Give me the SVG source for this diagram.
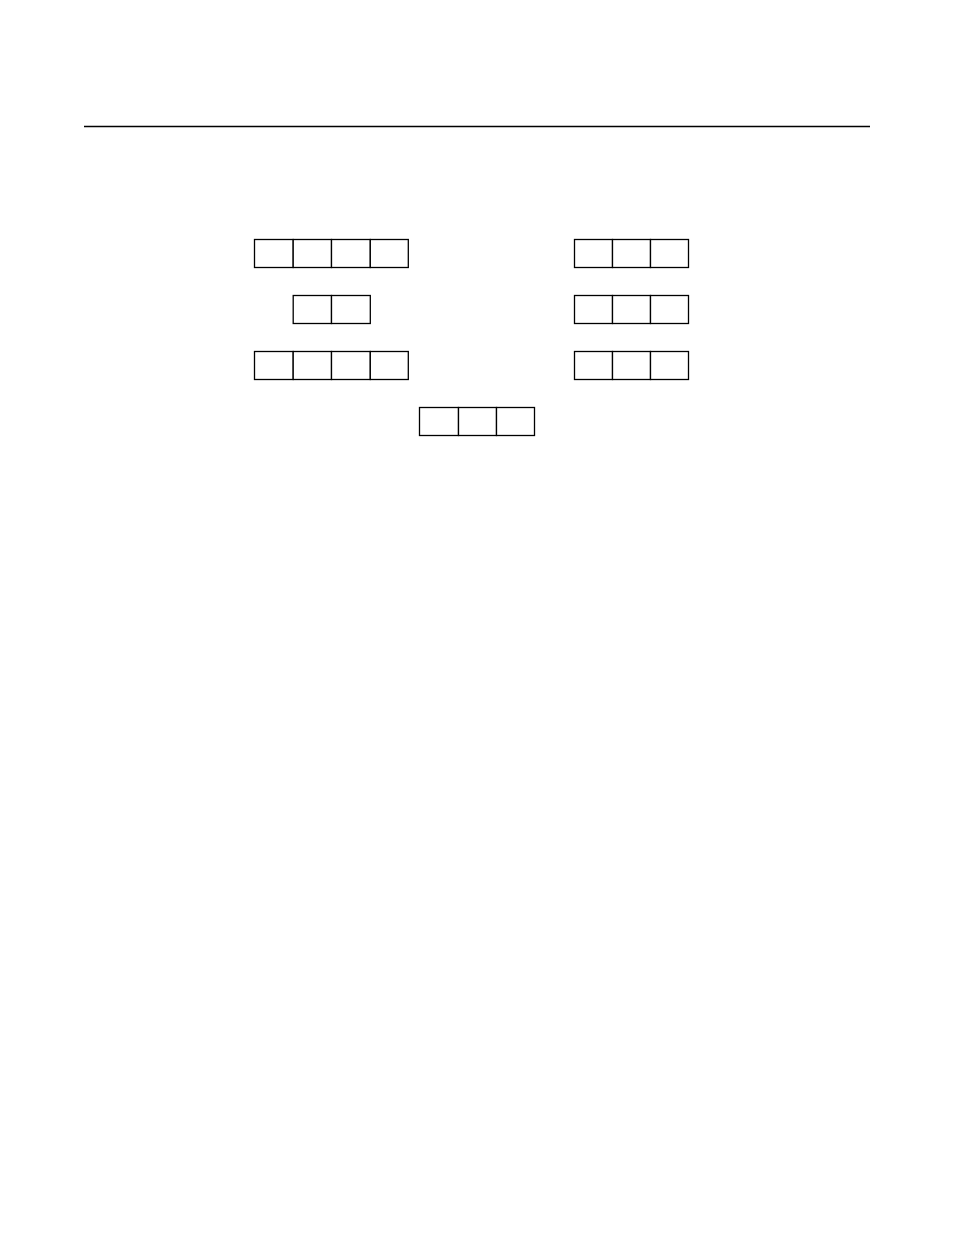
<svg xmlns="http://www.w3.org/2000/svg" width="954" height="1235" viewBox="0 0 954 1235">
<style>
.c{fill:#fff;stroke:#000;stroke-width:1.3}
.r{stroke:#000;stroke-width:1.3}
</style>
<rect width="954" height="1235" fill="#fff"/>
<line class="r" x1="84" y1="126.5" x2="870" y2="126.5"/>
<g id="left-row1">
<rect class="c" x="254.5" y="239.5" width="38.7" height="28"/>
<rect class="c" x="293.2" y="239.5" width="38.3" height="28"/>
<rect class="c" x="331.5" y="239.5" width="38.8" height="28"/>
<rect class="c" x="370.3" y="239.5" width="38" height="28"/>
</g>
<g id="left-row2">
<rect class="c" x="293.2" y="295.5" width="38.3" height="28"/>
<rect class="c" x="331.5" y="295.5" width="38.8" height="28"/>
</g>
<g id="left-row3">
<rect class="c" x="254.5" y="351.5" width="38.7" height="28"/>
<rect class="c" x="293.2" y="351.5" width="38.3" height="28"/>
<rect class="c" x="331.5" y="351.5" width="38.8" height="28"/>
<rect class="c" x="370.3" y="351.5" width="38" height="28"/>
</g>
<g id="right-row1">
<rect class="c" x="574.5" y="239.5" width="38" height="28"/>
<rect class="c" x="612.5" y="239.5" width="38" height="28"/>
<rect class="c" x="650.5" y="239.5" width="38" height="28"/>
</g>
<g id="right-row2">
<rect class="c" x="574.5" y="295.5" width="38" height="28"/>
<rect class="c" x="612.5" y="295.5" width="38" height="28"/>
<rect class="c" x="650.5" y="295.5" width="38" height="28"/>
</g>
<g id="right-row3">
<rect class="c" x="574.5" y="351.5" width="38" height="28"/>
<rect class="c" x="612.5" y="351.5" width="38" height="28"/>
<rect class="c" x="650.5" y="351.5" width="38" height="28"/>
</g>
<g id="bottom-row">
<rect class="c" x="419.5" y="407.5" width="39" height="28"/>
<rect class="c" x="458.5" y="407.5" width="38" height="28"/>
<rect class="c" x="496.5" y="407.5" width="38" height="28"/>
</g>
<g id="connectors"></g>
</svg>
